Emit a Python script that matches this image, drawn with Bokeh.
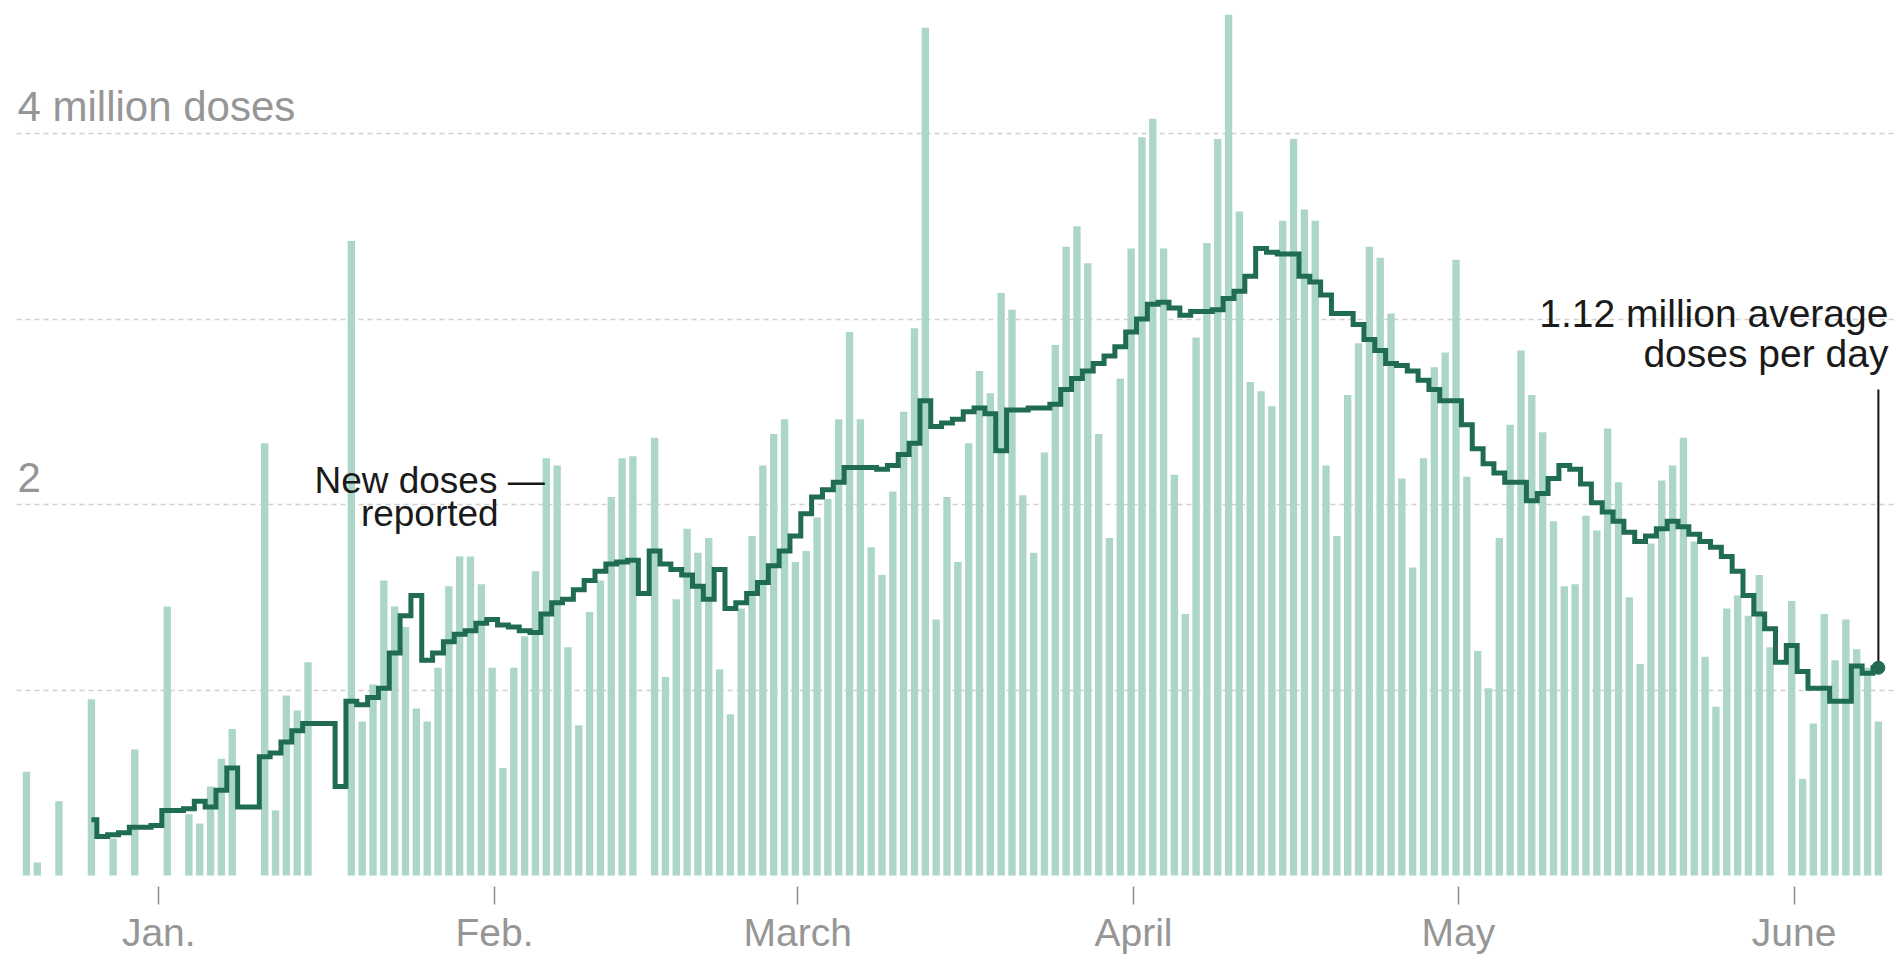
import numpy as np
import pandas as pd
from bokeh.plotting import figure
from bokeh.models import Range1d, Label, FixedTicker, ColumnDataSource
from bokeh.embed import file_html
from bokeh.resources import INLINE

N = None
# New doses reported per day (millions)
doses_dec = [0.56, 0.07, N, 0.40, N, N, 0.95, N, 0.20, N, 0.68, N, N]  # Dec 19-31
doses_jan = [1.45, N, 0.33, 0.28, 0.48, 0.63, 0.79, N, N, 2.33, 0.35, 0.97, 0.89, 1.15,
             N, N, N, 3.42, 0.83, 1.03, 1.59, 1.45, 1.34, 0.90, 0.83, 1.12, 1.56, 1.72,
             1.72, 1.57, 1.12]
doses_feb = [0.58, 1.12, 1.29, 1.64, 2.25, 2.21, 1.23, 0.81, 1.42, 1.59, 2.04, 2.25, 2.26,
             N, 2.36, 1.07, 1.49, 1.87, 1.74, 1.82, 1.11, 0.87, 1.44, 1.83, 2.21, 2.38,
             2.46, 1.69]
doses_mar = [1.75, 1.93, 2.03, 2.46, 2.93, 2.46, 1.77, 1.62, 2.07, 2.50, 2.95, 4.57, 1.38,
             2.04, 1.69, 2.33, 2.72, 2.60, 3.14, 3.05, 2.05, 1.74, 2.28, 2.86, 3.39, 3.50,
             3.30, 2.38, 1.82, 2.68, 3.38]
doses_apr = [3.98, 4.08, 3.38, 2.16, 1.41, 2.90, 3.41, 3.97, 4.64, 3.58, 2.66, 2.61, 2.53,
             3.53, 3.97, 3.59, 3.53, 2.21, 1.83, 2.59, 2.87, 3.39, 3.33, 3.03, 2.14, 1.66,
             2.25, 2.74, 2.82, 3.32]
doses_may = [2.15, 1.21, 1.01, 1.82, 2.43, 2.83, 2.59, 2.39, 1.91, 1.56, 1.57, 1.94, 1.86,
             2.41, 2.12, 1.50, 1.14, 1.79, 2.13, 2.21, 2.36, 1.80, 1.18, 0.91, 1.44, 1.51,
             1.40, 1.62, 1.23, N, 1.48]
doses_jun = [0.52, 0.82, 1.41, 1.16, 1.38, 1.22, 1.12, 0.83]

# 7-day average (millions), starting Dec 25
avg_dec = [0.30, 0.21, 0.22, 0.23, 0.26, 0.26, 0.27]
avg_jan = [0.35, 0.35, 0.36, 0.40, 0.37, 0.46, 0.58, 0.37, 0.37, 0.64, 0.66, 0.72, 0.78,
           0.82, 0.82, 0.82, 0.48, 0.94, 0.92, 0.96, 1.01, 1.20, 1.40, 1.51, 1.16, 1.20,
           1.26, 1.30, 1.32, 1.36, 1.38]
avg_feb = [1.35, 1.34, 1.32, 1.31, 1.41, 1.47, 1.49, 1.54, 1.59, 1.64, 1.68, 1.69, 1.70,
           1.52, 1.75, 1.68, 1.65, 1.62, 1.56, 1.49, 1.65, 1.44, 1.47, 1.52, 1.58, 1.67,
           1.75, 1.83]
avg_mar = [1.95, 2.04, 2.08, 2.12, 2.20, 2.20, 2.20, 2.19, 2.21, 2.27, 2.33, 2.56, 2.42,
           2.44, 2.46, 2.50, 2.52, 2.49, 2.29, 2.51, 2.51, 2.52, 2.52, 2.54, 2.62, 2.68,
           2.72, 2.76, 2.80, 2.85, 2.93]
avg_apr = [3.00, 3.08, 3.09, 3.06, 3.02, 3.04, 3.04, 3.05, 3.11, 3.15, 3.23, 3.38, 3.36,
           3.35, 3.35, 3.23, 3.20, 3.13, 3.03, 3.03, 2.97, 2.89, 2.83, 2.76, 2.75, 2.72,
           2.67, 2.62, 2.56, 2.56]
avg_may = [2.43, 2.30, 2.22, 2.17, 2.12, 2.12, 2.02, 2.06, 2.14, 2.21, 2.19, 2.11, 2.01,
           1.96, 1.91, 1.85, 1.80, 1.83, 1.87, 1.91, 1.88, 1.84, 1.80, 1.77, 1.72, 1.64,
           1.51, 1.41, 1.33, 1.15, 1.24]
avg_jun = [1.10, 1.01, 1.01, 0.94, 0.94, 1.13, 1.09, 1.12]

month_ticks = ["2021-01-01", "2021-02-01", "2021-03-01", "2021-04-01", "2021-05-01", "2021-06-01"]
month_labels = ["Jan.", "Feb.", "March", "April", "May", "June"]
grid_values = [1, 2, 3, 4]
y_labels = {4: "4 million doses", 2: "2"}

DAY = 86400000.0
BAR_SHIFT = 0.78 * DAY  # bar centre relative to the start of its day
TXT_FIX = 14            # px: lift labels so their baselines sit where intended


def ms(s):
    return pd.Timestamp(s).value / 1e6


daily = doses_dec + doses_jan + doses_feb + doses_mar + doses_apr + doses_may + doses_jun
avg = avg_dec + avg_jan + avg_feb + avg_mar + avg_apr + avg_may + avg_jun
day0 = ms("2020-12-19")
bar_x = [day0 + i * DAY + BAR_SHIFT for i in range(len(daily))]
bsrc = ColumnDataSource(dict(
    x=[x for x, v in zip(bar_x, daily) if v is not None],
    top=[v for v in daily if v is not None]))
a0 = ms("2020-12-25")
avg_x = [a0 + i * DAY + BAR_SHIFT for i in range(len(avg))]

BAR = "#acd6c8"
LINE = "#206b53"
GREY = "#969696"
FONT = "Liberation Sans"

p = figure(width=1895, height=956, x_axis_type="datetime", output_backend="svg",
           toolbar_location=None, tools="",
           x_range=Range1d(ms("2020-12-18 20:40"), ms("2021-06-10 08:40")),
           y_range=Range1d(-0.0592, 4.674),
           min_border_left=16, min_border_right=0, min_border_top=8, min_border_bottom=69)
p.outline_line_color = None
p.background_fill_color = "white"
p.border_fill_color = "white"

p.xgrid.visible = False
p.ygrid.ticker = FixedTicker(ticks=grid_values)
p.ygrid.grid_line_color = "#d0d0d0"
p.ygrid.grid_line_dash = "5 4"
p.ygrid.grid_line_width = 1.5
p.yaxis.visible = False

ax = p.xaxis[0]
tick_ms = [ms(t) for t in month_ticks]
ax.ticker = FixedTicker(ticks=tick_ms)
ax.major_label_overrides = {t: l for t, l in zip(tick_ms, month_labels)}
ax.axis_line_color = None
ax.major_tick_line_color = "#8c8c8c"
ax.major_tick_line_width = 1.5
ax.major_tick_in = 0
ax.major_tick_out = 18
ax.minor_tick_line_color = None
ax.major_label_standoff = 6
ax.major_label_text_font = FONT
ax.major_label_text_font_size = "39px"
ax.major_label_text_color = GREY

p.vbar(x="x", top="top", width=0.68 * DAY, source=bsrc, fill_color=BAR, line_color=None)
p.step(x=avg_x, y=avg, mode="center", line_width=5, line_color=LINE, line_join="miter")

# callout for the latest average
last_x, last_y = avg_x[-1], avg[-1]
callout_top = 2.62
p.segment(x0=[last_x], y0=[last_y], x1=[last_x], y1=[callout_top], line_color="#111111", line_width=2)
p.scatter(x=[last_x], y=[last_y], size=13, fill_color=LINE, line_color=LINE)

ANN = dict(text_baseline="alphabetic", text_font=FONT, text_color="#1a1a1a")
p.add_layout(Label(x=last_x, y=2.958, x_offset=10, y_offset=TXT_FIX - 1, text="1.12 million average",
                   text_align="right", text_font_size="39px", **ANN))
p.add_layout(Label(x=last_x, y=2.958, x_offset=10, y_offset=TXT_FIX - 41, text="doses per day",
                   text_align="right", text_font_size="39px", **ANN))

ann_left = ms("2021-01-15")     # left edge of "New doses —"
ann_right = ms("2021-01-31")    # right edge of "reported"
p.add_layout(Label(x=ann_left, y=2.052, x_offset=4, y_offset=TXT_FIX, text="New doses \u2014",
                   text_align="left", text_font_size="37px", **ANN))
p.add_layout(Label(x=ann_right, y=2.052, x_offset=15, y_offset=TXT_FIX - 33, text="reported",
                   text_align="right", text_font_size="37px", **ANN))

x_left = p.x_range.start
for yv, txt in y_labels.items():
    p.add_layout(Label(x=x_left, y=yv, x_offset=1, y_offset=13 + TXT_FIX, text=txt, text_align="left",
                       text_baseline="alphabetic", text_font=FONT, text_font_size="42px", text_color=GREY))

open("out.html", "w").write(file_html(p, INLINE))
